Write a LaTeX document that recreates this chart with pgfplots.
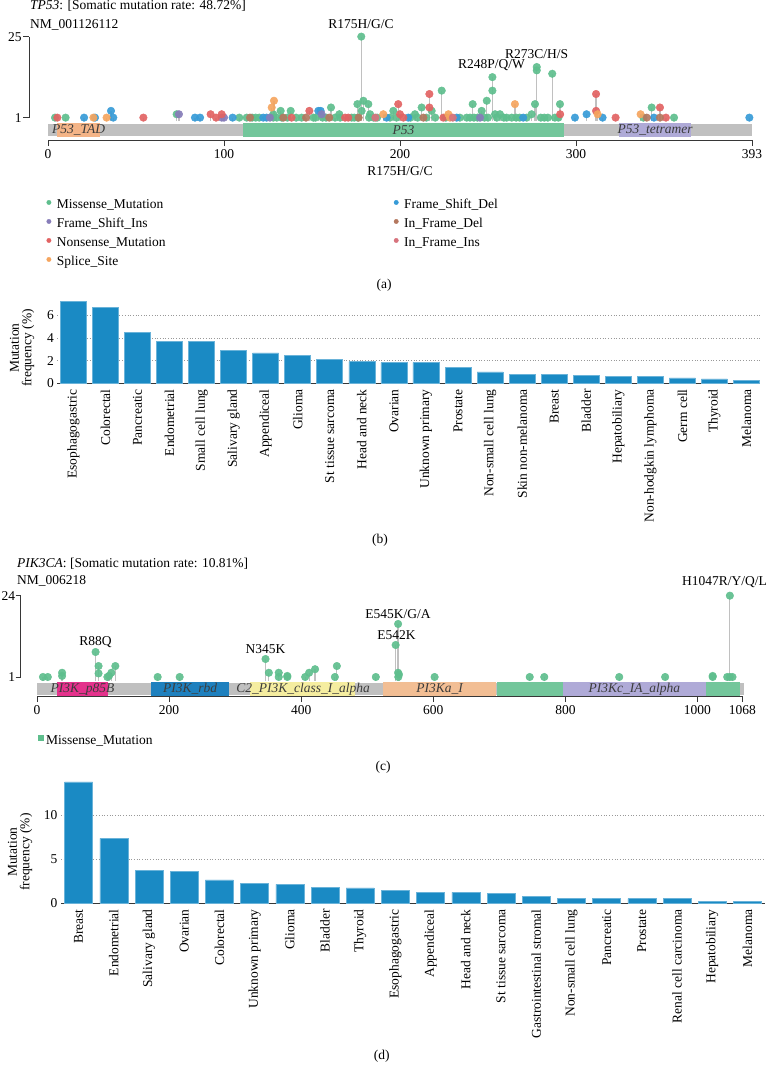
\documentclass[border=0pt]{standalone}
\usepackage{fontspec}
\setmainfont{Liberation Serif}
\usepackage{pgfplots}
\usepackage{pgfplotstable}
\pgfplotsset{compat=1.18}

\definecolor{cMis}{RGB}{94,190,141}
\definecolor{cFSI}{RGB}{135,125,185}
\definecolor{cNon}{RGB}{226,99,99}
\definecolor{cSpl}{RGB}{245,165,95}
\definecolor{cFSD}{RGB}{55,155,215}
\definecolor{cIFD}{RGB}{180,120,95}
\definecolor{cIFI}{RGB}{215,115,125}
\definecolor{stemc}{RGB}{192,192,192}
\definecolor{bbc}{RGB}{192,192,192}
\definecolor{dTAD}{RGB}{244,180,135}
\definecolor{dGreen}{RGB}{115,198,155}
\definecolor{dLav}{RGB}{175,170,215}
\definecolor{dMag}{RGB}{228,50,140}
\definecolor{dBlue}{RGB}{30,128,190}
\definecolor{dYel}{RGB}{245,237,160}
\definecolor{dOra}{RGB}{242,190,148}
\definecolor{barblue}{RGB}{26,138,196}
\definecolor{axisgray}{RGB}{55,55,55}
\definecolor{dtext}{RGB}{60,60,60}

\newcommand\fs{\fontsize{13.5bp}{15.5bp}\selectfont}

% ---------- TP53 lollipop data (position, count) ----------
\pgfplotstableread{
x y
4 1
10 1
108.7 1
112.9 1
116 1
118 1
120 1
128 1
130 1
132.8 1
136 1
141 1
144.1 1
150.8 1
152 1
156 1
158 1
163.1 1
166 1
172.5 1
174 1
176 1
182.4 1
185 1
187 1
194.3 1
198 1
206 1
210 1
215 1
220 1
226 1
234 1
237.9 1
239.8 1
242 1
244 1
248 1
250 1
255 1
259 1
260.6 1
263.5 1
266 1
268 1
272 1
280 1
282 1
284 1
288 1
290 1
338.3 1
355.7 1
73.1 2
128 2
132.2 3
137.9 3
160.8 4
165.5 2
175.8 5
178.2 3
179.2 6
178 25
182 5
183 2
196.2 3
208.5 2
212.3 4
218 3
223.7 9
241.3 5
246.4 3
249.3 6
252.5 9
252.5 13
254 2
256.8 2
274.8 2
276.7 5
277.7 16
277.7 15
286.5 14
290.9 5
343 4
}\aMis
\pgfplotstableread{
x y
20.5 1
26.7 1
37.1 1
83.5 1
86.4 1
104.9 1
122.3 1
124.2 1
192.4 1
204.7 1
232.2 1
270 1
299.4 1
315.1 1
344.3 1
398.5 1
35.8 3
153.6 3
154.9 3
306 2
}\aFSD
\pgfplotstableread{
x y
98.7 1
100 1
126.1 1
245.5 1
74.4 2
155.5 2
}\aFSI
\pgfplotstableread{
x y
5.3 1
54.2 1
95.5 1
138.4 1
168.8 1
170.6 1
201.9 1
224.6 1
322.5 1
351.1 1
92.4 2
98.7 2
148.5 3
199 5
200 2
216.7 8
216.7 4
291 2
311.4 8
311.4 3
347.7 4
}\aNon
\pgfplotstableread{
x y
25.8 1
33.3 1
228.4 1
127.1 4
128.4 6
190.5 2
227.5 2
265.3 5
312.3 2
336.7 2
}\aSpl
\pgfplotstableread{
x y
114.8 1
133.7 1
146.6 1
159.8 1
176.5 1
213.3 1
340.2 1
347.7 1
}\aIFD
\pgfplotstableread{
x y
186 1
230 1
}\aIFI

% ---------- PIK3CA lollipop data ----------
\pgfplotstableread{
x y
9 1
16.4 1
106.6 1
182.7 1
216 1
366 1
379 1
406 1
451 1
513 1
547 1
602 1
746 1
768 1
881.5 1
951 1
1023 1
1045 1
1049 1
1053 1
38 1.3
38 2.2
93.2 2
93.2 4.1
88.7 8.07
109 1.3
112.6 2.2
118.6 4.1
346 6.09
351 2.2
366 2.2
379 1.3
412 2.2
421 3.2
454 4.1
543 10.05
546.7 16
546.7 2.2
548 1.7
1023 1.3
1049 24
}\cMisT

\pgfplotsset{
  lolli/.style={
    scale only axis, anchor=south west, enlargelimits=false, clip=false,
    axis x line=bottom, axis y line=none,
    axis line style={-, draw=axisgray, line width=0.9bp},
    tick style={draw=axisgray, line width=0.9bp},
    major tick length=6bp, tick align=outside,
    ticklabel style={font=\fs},
    /pgf/number format/assume math mode=true,
  },
  yscaleax/.style={
    scale only axis, anchor=south west, enlargelimits=false, width=1bp,
    xmin=0, xmax=1, axis y line=left, axis x line=none,
    axis line style={-, draw=axisgray, line width=0.9bp},
    tick style={draw=axisgray, line width=0.9bp},
    major tick length=6bp, tick align=outside,
    ticklabel style={font=\fs},
    /pgf/number format/assume math mode=true,
  },
  stemst/.style={ycomb, draw=stemc, line width=1.2bp, mark=none, forget plot},
  dot/.style={only marks, color=#1, mark=*, mark size=3.8bp, mark options={draw=none, fill=#1, opacity=0.92}, forget plot},
  dom/.style={fill=#1, draw=none, forget plot},
  barax/.style={
    scale only axis, anchor=south west, enlargelimits=false, ybar,
    axis x line=bottom, axis y line=left,
    x axis line style={-, draw=axisgray, line width=1.2bp},
    y axis line style={draw=none},
    major tick length=0pt, xtick=data,
    ymajorgrids, grid style={draw=gray!80, dash pattern=on 0.7bp off 2bp, line width=0.7bp},
    xticklabel style={font=\fs, yshift=-2.5bp, rotate=90, anchor=east},
    yticklabel style={font=\fs},
    /pgf/number format/assume math mode=true,
    ylabel={Mutation\\frequency (\%)},
    ylabel style={font=\fontsize{13.5bp}{12.5bp}\selectfont, align=center, anchor=center},
  },
}

\begin{document}
\begin{tikzpicture}
\useasboundingbox (0bp,0bp) rectangle (769bp,-1074bp);

% ================= (a) TP53 lollipop =================
\node[anchor=west, inner sep=0pt, font=\fs] at (30bp,-6bp) {\textit{TP53}: [Somatic mutation rate: 48.72\%]};
\node[anchor=west, inner sep=0pt, font=\fs] at (30bp,-24.5bp) {NM\_001126112};

\begin{axis}[yscaleax, at={(29.3bp,-117.7bp)}, height=81bp, ymin=1, ymax=25, ytick={1,25},
  yticklabel style={inner sep=1.5bp}]
\addplot[draw=none] coordinates {(0,1)};
\end{axis}

\begin{axis}[lolli, at={(48bp,-140bp)}, width=704bp, height=105.06bp,
  xmin=0, xmax=400, ymin=-5.63, ymax=25.5,
  xtick={0,100,200,300,400}, xticklabels={0,100,200,300,393},
  legend columns=2,
  legend style={at={(axis description cs:-0.0024,-0.545)}, anchor=north west, draw=none, fill=none,
    font=\fs, row sep=3bp, inner sep=0pt, nodes={inner sep=2bp, text height=9bp, text depth=3bp},
    /tikz/every odd column/.append style={column sep=3.5bp}},
  legend cell align=left]
% backbone and domains
\addplot[dom=bbc] coordinates {(0,-0.95) (400,-0.95) (400,-4.33) (0,-4.33)} -- cycle;
\addplot[dom=dTAD] coordinates {(5.3,-0.47) (29.5,-0.47) (29.5,-4.62) (5.3,-4.62)} -- cycle;
\addplot[dom=dGreen] coordinates {(111,-0.47) (293,-0.47) (293,-4.62) (111,-4.62)} -- cycle;
\addplot[dom=dLav] coordinates {(324.6,-0.47) (365.2,-0.47) (365.2,-4.62) (324.6,-4.62)} -- cycle;
\node[font=\fs\itshape, text=dtext] at (axis cs:17.4,-2.6) {P53\_TAD};
\node[font=\fs\itshape, text=dtext] at (axis cs:202,-2.6) {P53};
\node[font=\fs\itshape, text=dtext] at (axis cs:344.9,-2.6) {P53\_tetramer};
% stems
\addplot[stemst] table {\aMis};
\addplot[stemst] table {\aFSD};
\addplot[stemst] table {\aFSI};
\addplot[stemst] table {\aNon};
\addplot[stemst] table {\aSpl};
\addplot[stemst] table {\aIFD};
\addplot[stemst] table {\aIFI};
% heads
\addplot[dot=cMis] table {\aMis};
\addplot[dot=cFSD] table {\aFSD};
\addplot[dot=cFSI] table {\aFSI};
\addplot[dot=cNon] table {\aNon};
\addplot[dot=cSpl] table {\aSpl};
\addplot[dot=cIFD] table {\aIFD};
\addplot[dot=cIFI] table {\aIFI};
% legend (row-wise order gives the two reference columns)
\addlegendimage{legend image code/.code={\fill[cMis] (0bp,3bp) circle (2.2bp);}}
\addlegendentry{\makebox[335bp][l]{Missense\_Mutation}}
\addlegendimage{legend image code/.code={\fill[cFSD] (0bp,3bp) circle (2.2bp);}}
\addlegendentry{Frame\_Shift\_Del}
\addlegendimage{legend image code/.code={\fill[cFSI] (0bp,3bp) circle (2.2bp);}}
\addlegendentry{\makebox[335bp][l]{Frame\_Shift\_Ins}}
\addlegendimage{legend image code/.code={\fill[cIFD] (0bp,3bp) circle (2.2bp);}}
\addlegendentry{In\_Frame\_Del}
\addlegendimage{legend image code/.code={\fill[cNon] (0bp,3bp) circle (2.2bp);}}
\addlegendentry{\makebox[335bp][l]{Nonsense\_Mutation}}
\addlegendimage{legend image code/.code={\fill[cIFI] (0bp,3bp) circle (2.2bp);}}
\addlegendentry{In\_Frame\_Ins}
\addlegendimage{legend image code/.code={\fill[cSpl] (0bp,3bp) circle (2.2bp);}}
\addlegendentry{\makebox[335bp][l]{Splice\_Site}}
\end{axis}

\node[font=\fs] at (361bp,-24bp) {R175H/G/C};
\node[font=\fs] at (491.5bp,-65bp) {R248P/Q/W};
\node[font=\fs] at (536.7bp,-54bp) {R273C/H/S};
\node[font=\fs] at (400bp,-171bp) {R175H/G/C};
\node[font=\fs] at (384bp,-285bp) {(a)};

% ================= (b) TP53 frequency =================
\begin{axis}[barax, at={(57.3bp,-383.3bp)}, width=702.7bp, height=84bp,
  xmin=-0.5, xmax=21.42, ymin=0, ymax=7.4, ytick={0,2,4,6}, bar width=26bp,
  ylabel style={at={(axis description cs:-0.05,0.42)}},
  xticklabels={Esophagogastric, Colorectal, Pancreatic, Endometrial, Small cell lung, Salivary gland, Appendiceal, Glioma, St tissue sarcoma, Head and neck, Ovarian, Unknown primary, Prostate, Non-small cell lung, Skin non-melanoma, Breast, Bladder, Hepatobiliary, Non-hodgkin lymphoma, Germ cell, Thyroid, Melanoma}]
\addplot[fill=barblue, draw=barblue!65!white, line width=0.6bp] coordinates {
(0,7.19) (1,6.70) (2,4.49) (3,3.67) (4,3.67) (5,2.87) (6,2.67) (7,2.47) (8,2.08) (9,1.91) (10,1.82)
(11,1.82) (12,1.38) (13,1.00) (14,0.76) (15,0.76) (16,0.67) (17,0.59) (18,0.59) (19,0.47) (20,0.38) (21,0.29)};
\end{axis}
\node[font=\fs] at (380bp,-540bp) {(b)};

% ================= (c) PIK3CA lollipop =================
\node[anchor=west, inner sep=0pt, font=\fs] at (17bp,-564bp) {\textit{PIK3CA}: [Somatic mutation rate: 10.81\%]};
\node[anchor=west, inner sep=0pt, font=\fs] at (17bp,-580.5bp) {NM\_006218};

\begin{axis}[yscaleax, at={(20.7bp,-677bp)}, height=81.3bp, ymin=1, ymax=24, ytick={1,24},
  major tick length=5bp, yticklabel style={inner sep=0.5bp}]
\addplot[draw=none] coordinates {(0,1)};
\end{axis}

\begin{axis}[lolli, at={(37bp,-696bp)}, width=705.4bp, height=102.09bp,
  xmin=0, xmax=1068, ymin=-4.38, ymax=24.5,
  xtick={0,200,400,600,800,1000,1068}, xticklabels={0,200,400,600,800,1000,1068},
  legend style={at={(axis description cs:0.0006,-0.362)}, anchor=north west, draw=none, fill=none,
    font=\fs, inner sep=0pt, nodes={inner sep=2bp, text height=9bp, text depth=3bp},
    /tikz/every odd column/.append style={column sep=1bp}},
  legend cell align=left]
\addplot[dom=bbc] coordinates {(0,-0.62) (1070,-0.62) (1070,-4.1) (0,-4.1)} -- cycle;
\addplot[dom=dMag] coordinates {(31,-0.4) (107,-0.4) (107,-4.38) (31,-4.38)} -- cycle;
\addplot[dom=dBlue] coordinates {(173,-0.4) (291,-0.4) (291,-4.38) (173,-4.38)} -- cycle;
\addplot[dom=dYel] coordinates {(322,-0.4) (481,-0.4) (481,-4.38) (322,-4.38)} -- cycle;
\addplot[dom=dOra] coordinates {(524,-0.4) (695,-0.4) (695,-4.38) (524,-4.38)} -- cycle;
\addplot[dom=dGreen] coordinates {(696,-0.4) (796,-0.4) (796,-4.38) (696,-4.38)} -- cycle;
\addplot[dom=dLav] coordinates {(796,-0.4) (1013,-0.4) (1013,-4.38) (796,-4.38)} -- cycle;
\addplot[dom=dGreen] coordinates {(1013,-0.4) (1064,-0.4) (1064,-4.38) (1013,-4.38)} -- cycle;
\node[font=\fs\itshape, text=dtext] at (axis cs:69,-2.4) {PI3K\_p85B};
\node[font=\fs\itshape, text=dtext] at (axis cs:232,-2.4) {PI3K\_rbd};
\node[font=\fs\itshape, text=dtext] at (axis cs:403,-2.4) {C2\_PI3K\_class\_I\_alpha};
\node[font=\fs\itshape, text=dtext] at (axis cs:609.5,-2.4) {PI3Ka\_I};
\node[font=\fs\itshape, text=dtext] at (axis cs:904.5,-2.4) {PI3Kc\_IA\_alpha};
\addplot[stemst] table {\cMisT};
\addplot[dot=cMis] table {\cMisT};
\addlegendimage{legend image code/.code={\fill[cMis] (-2.5bp,0.5bp) rectangle (2.5bp,5.5bp);}}
\addlegendentry{Missense\_Mutation}
\end{axis}

\node[font=\fs] at (95.6bp,-642bp) {R88Q};
\node[font=\fs] at (265.6bp,-649bp) {N345K};
\node[font=\fs] at (398bp,-614bp) {E545K/G/A};
\node[font=\fs] at (396.6bp,-635bp) {E542K};
\node[font=\fs, anchor=east, inner sep=0pt] at (767bp,-582bp) {H1047R/Y/Q/L};
\node[font=\fs] at (383bp,-767bp) {(c)};

% ================= (d) PIK3CA frequency =================
\begin{axis}[barax, at={(61bp,-903.3bp)}, width=704bp, height=125bp,
  xmin=-0.5, xmax=19.5, ymin=0, ymax=14.2, ytick={0,5,10}, bar width=28bp,
  ylabel style={at={(axis description cs:-0.058,0.41)}},
  xticklabels={Breast, Endometrial, Salivary gland, Ovarian, Colorectal, Unknown primary, Glioma, Bladder, Thyroid, Esophagogastric, Appendiceal, Head and neck, St tissue sarcoma, Gastrointestinal stromal, Non-small cell lung, Pancreatic, Prostate, Renal cell carcinoma, Hepatobiliary, Melanoma}]
\addplot[fill=barblue, draw=barblue!65!white, line width=0.6bp] coordinates {
(0,13.8) (1,7.39) (2,3.78) (3,3.67) (4,2.65) (5,2.27) (6,2.16) (7,1.85) (8,1.74) (9,1.51)
(10,1.25) (11,1.25) (12,1.14) (13,0.76) (14,0.53) (15,0.53) (16,0.53) (17,0.53) (18,0.26) (19,0.26)};
\end{axis}
\node[font=\fs] at (381.7bp,-1056bp) {(d)};

\end{tikzpicture}
\end{document}
